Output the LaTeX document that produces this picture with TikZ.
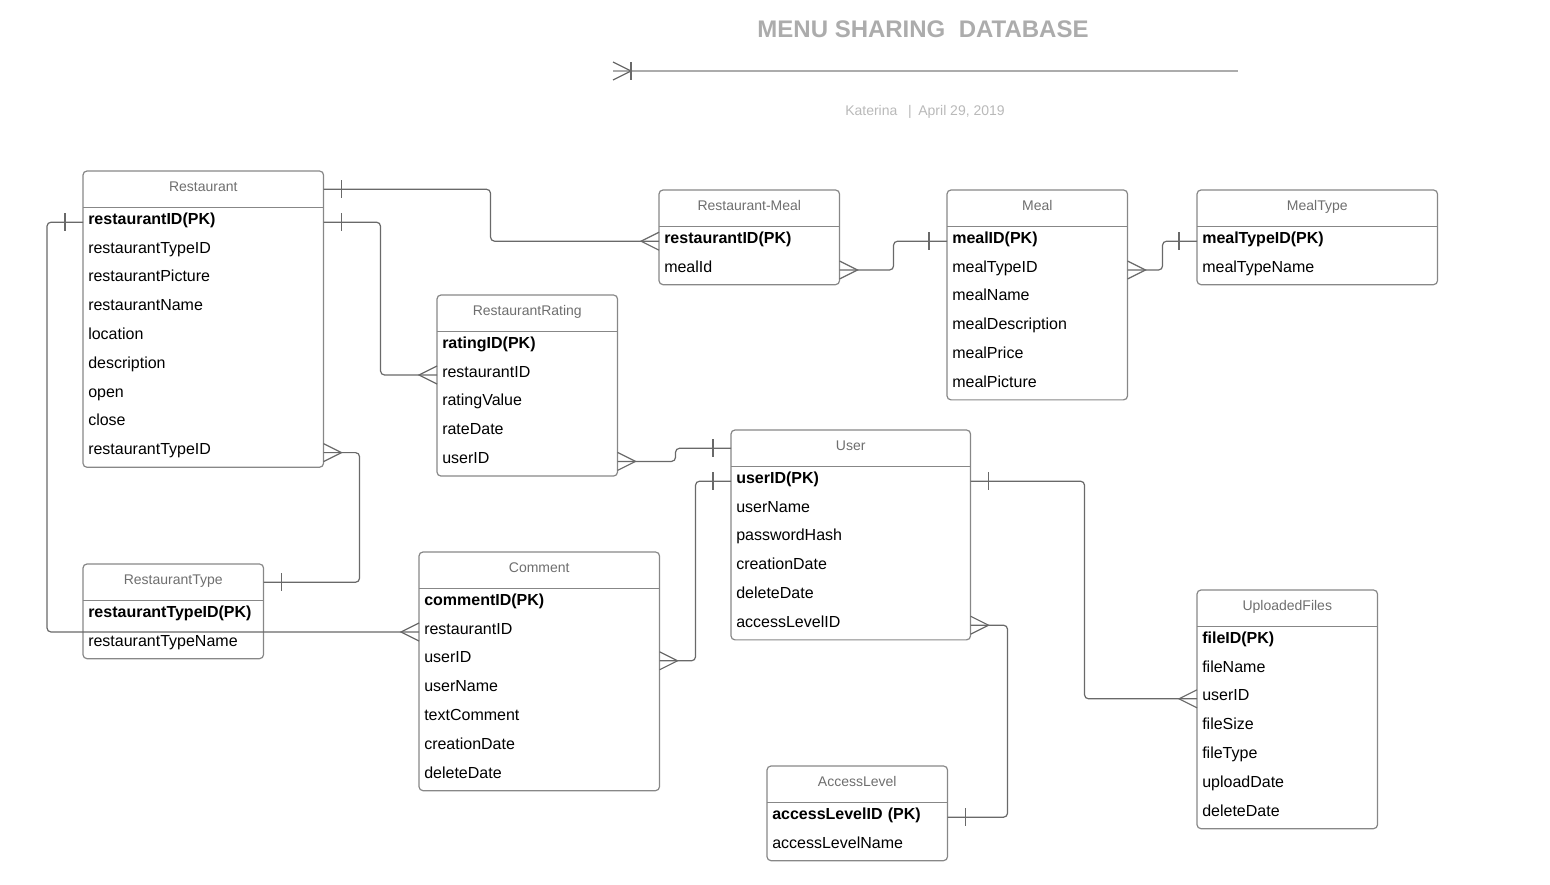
\documentclass[tikz,border=0pt]{standalone}
\usepackage{fontspec}
\setmainfont{Liberation Sans}
\definecolor{boxgray}{RGB}{135,135,135}
\definecolor{linegray}{RGB}{105,105,105}
\definecolor{headgray}{RGB}{110,110,110}
\definecolor{titlegray}{RGB}{172,172,172}
\definecolor{subgray}{RGB}{185,185,185}

% entity box: name, top left (px), width (px), title, fields
\newcommand{\erentity}[5]{%
  \pgfmathsetlengthmacro\entwd{#3*0.75pt}%
  \pgfmathsetlengthmacro\enttw{(#3-10)*0.75pt}%
  \node[enthead, minimum width=\entwd, anchor=north west] (#1) at (#2) {#4};
  \foreach \fld [count=\i] in {#5} {
    \node[entrow, text width=\enttw, anchor=north west, yshift={-(\i-1)*21.6pt}] (#1-\i) at (#1.south west) {\fld};
    \xdef\lastfld{\i}
  }
  \draw[entline] (#1.south west) -- (#1.south east);
  \draw[entline, rounded corners=3pt] (#1.north west) rectangle (#1-\lastfld.south east);
}

\begin{document}
\begin{tikzpicture}[x=0.75pt, y=-0.75pt,
    enthead/.style={minimum height=27pt, inner sep=0pt, text height=7.5pt, text depth=4.5pt, text=headgray, font=\fontsize{10.5}{12}\selectfont},
    entrow/.style={minimum height=21.6pt, inner xsep=3.75pt, inner ysep=0pt, text height=9pt, text depth=6pt, align=left, font=\fontsize{12}{14}\selectfont},
    entline/.style={draw=boxgray, line width=0.9pt},
    rel/.style={draw=linegray, line width=0.9pt, rounded corners=3pt},
    barmark/.pic={\draw (18,-9) -- (18,9);},
    crowmark/.pic={\draw (0,-9) -- (18,0) -- (0,9);},
    every pic/.style={linegray, line width=0.9pt}]
  \useasboundingbox (0,0) rectangle (1550,885);

  % title
  \node[text=titlegray, font=\bfseries\fontsize{18}{20}\selectfont] (title) at (923,29) {MENU SHARING\ \ DATABASE};
  \coordinate (ruleL) at (613,71);
  \coordinate (ruleR) at (1238,71);
  \draw[titlegray, line width=1.4pt] (ruleL) -- (ruleR);
  \pic[titlegray, line width=1.2pt] at (ruleL) {crowmark};
  \pic[titlegray, line width=1.2pt] at (ruleL) {barmark};
  \node[text=subgray, font=\fontsize{10.5}{12}\selectfont] (subtitle) at (925,112) {Katerina\hspace{8pt}|\hspace{5pt}April 29, 2019};

  % entities
  \erentity{Restaurant}{83,171}{240}{Restaurant}{\textbf{restaurantID(PK)}, restaurantTypeID, restaurantPicture, restaurantName, location, description, open, close, restaurantTypeID}
  \erentity{RestaurantMeal}{659,190}{180}{Restaurant-Meal}{\textbf{restaurantID(PK)}, mealId}
  \erentity{Meal}{947,190}{180}{Meal}{\textbf{mealID(PK)}, mealTypeID, mealName, mealDescription, mealPrice, mealPicture}
  \erentity{MealType}{1197,190}{240}{MealType}{\textbf{mealTypeID(PK)}, mealTypeName}
  \erentity{RestaurantRating}{437,295}{180}{RestaurantRating}{\textbf{ratingID(PK)}, restaurantID, ratingValue, rateDate, userID}
  \erentity{User}{731,430}{239}{User}{\textbf{userID(PK)}, userName, passwordHash, creationDate, deleteDate, accessLevelID}
  \erentity{RestaurantType}{83,564}{180}{RestaurantType}{\textbf{restaurantTypeID(PK)}, restaurantTypeName}
  \erentity{Comment}{419,552}{240}{Comment}{\textbf{commentID(PK)}, restaurantID, userID, userName, textComment, creationDate, deleteDate}
  \erentity{AccessLevel}{767,766}{180}{AccessLevel}{\textbf{accessLevelID (PK)}, accessLevelName}
  \erentity{UploadedFiles}{1197,590}{180}{UploadedFiles}{\textbf{fileID(PK)}, fileName, userID, fileSize, fileType, uploadDate, deleteDate}

  % relations
  \draw[rel] (Restaurant.east) -- ++(167,0) |- (RestaurantMeal-1.west);
  \pic at (Restaurant.east) {barmark};
  \pic[xscale=-1] at (RestaurantMeal-1.west) {crowmark};

  \draw[rel] (Restaurant-1.east) -- ++(57,0) |- (RestaurantRating-2.west);
  \pic at (Restaurant-1.east) {barmark};
  \pic[xscale=-1] at (RestaurantRating-2.west) {crowmark};

  \draw[rel] (Restaurant-1.west) -- ++(-36,0) |- (Comment-2.west);
  \pic[xscale=-1] at (Restaurant-1.west) {barmark};
  \pic[xscale=-1] at (Comment-2.west) {crowmark};

  \draw[rel] (Restaurant-9.east) -- ++(36,0) |- (RestaurantType.east);
  \pic at (Restaurant-9.east) {crowmark};
  \pic at (RestaurantType.east) {barmark};

  \draw[rel] (RestaurantMeal-2.east) -- ++(54,0) |- (Meal-1.west);
  \pic at (RestaurantMeal-2.east) {crowmark};
  \pic[xscale=-1] at (Meal-1.west) {barmark};

  \draw[rel] (Meal-2.east) -- ++(35,0) |- (MealType-1.west);
  \pic at (Meal-2.east) {crowmark};
  \pic[xscale=-1] at (MealType-1.west) {barmark};

  \draw[rel] (RestaurantRating-5.east) -- ++(58,0) |- (User.west);
  \pic at (RestaurantRating-5.east) {crowmark};
  \pic[xscale=-1] at (User.west) {barmark};

  \draw[rel] (Comment-3.east) -- ++(36,0) |- (User-1.west);
  \pic at (Comment-3.east) {crowmark};
  \pic[xscale=-1] at (User-1.west) {barmark};

  \draw[rel] (User-1.east) -- ++(114,0) |- (UploadedFiles-3.west);
  \pic at (User-1.east) {barmark};
  \pic[xscale=-1] at (UploadedFiles-3.west) {crowmark};

  \draw[rel] (User-6.east) -- ++(37,0) |- (AccessLevel-1.east);
  \pic at (User-6.east) {crowmark};
  \pic at (AccessLevel-1.east) {barmark};
\end{tikzpicture}
\end{document}
